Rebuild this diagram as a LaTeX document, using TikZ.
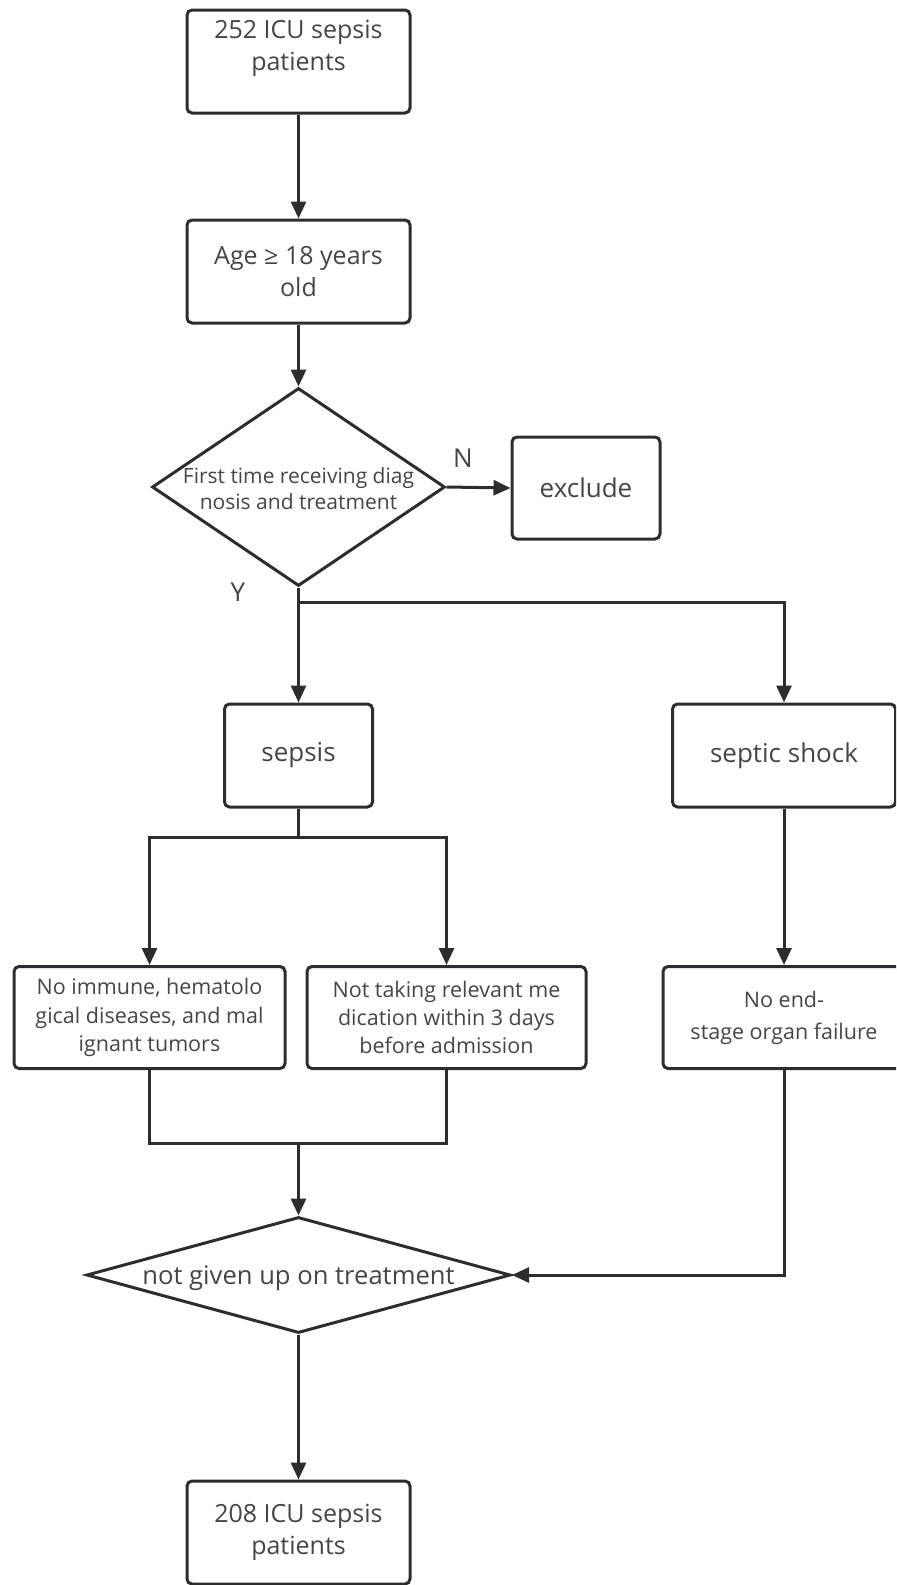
\documentclass[tikz,border=0pt]{standalone}
\usepackage{fontspec}
\setmainfont{Open Sans}
\usetikzlibrary{shapes.geometric,arrows.meta}
\definecolor{ln}{HTML}{2B2D30}
\definecolor{tx}{HTML}{454545}
\begin{document}
\begin{tikzpicture}[x=0.5pt,y=-0.5pt,
 box/.style={draw=ln,line width=1.5pt,rounded corners=2.5pt,inner sep=0pt,align=center,text=tx},
 dia/.style={draw=ln,line width=1.5pt,diamond,inner sep=0pt,text=tx},
 arr/.style={draw=ln,line width=1.5pt,-{Triangle[length=8.5pt,width=7.5pt]}},
 con/.style={draw=ln,line width=1.5pt},
 lab/.style={text=tx,inner sep=0pt,font=\fontsize{13}{15}\selectfont},
 big/.style={font=\fontsize{12.5}{16}\selectfont},
 mid/.style={font=\fontsize{10.75}{14.2}\selectfont}]
\clip (0,0) rectangle (896,1585);
\node[box,big,minimum width=111.5pt,minimum height=51.5pt] (b1) at (298.5,61.5) {252 ICU sepsis\\patients\\\mbox{}};
\node[box,big,minimum width=111.5pt,minimum height=51.5pt] (b2) at (298.5,271.5) {Age ≥ 18 years\\old};
\node[dia,minimum width=146.5pt,minimum height=99pt,font=\fontsize{10.5}{13}\selectfont] (d1) at (298.5,487)
 {\makebox[0pt]{\smash{\raisebox{-5pt}{\begin{tabular}{@{}c@{}}First time receiving diag\\nosis and treatment\end{tabular}}}}};
\node[box,minimum width=74pt,minimum height=51pt,font=\fontsize{13}{16}\selectfont] (ex) at (586,488) {exclude};
\node[box,minimum width=74pt,minimum height=51.5pt,font=\fontsize{13}{16}\selectfont] (sp) at (298.5,755.5) {sepsis};
\node[box,minimum width=111.5pt,minimum height=51.5pt,font=\fontsize{13}{16}\selectfont] (sh) at (784,755.5) {septic shock};
\node[box,mid,minimum width=135.5pt,minimum height=51pt] (A) at (149.5,1017.5) {No immune, hematolo\\gical diseases, and mal\\ignant tumors};
\node[box,mid,minimum width=139.5pt,minimum height=51pt] (B) at (446.5,1017.5) {Not taking relevant me\\dication within 3 days\\before admission};
\node[box,minimum width=121pt,minimum height=51pt,font=\fontsize{10.75}{16}\selectfont] (C) at (784,1017.5) {No end-\\stage organ failure};
\node[dia,minimum width=212pt,minimum height=58pt,font=\fontsize{12.8}{15}\selectfont] (d2) at (298.5,1275)
 {\makebox[0pt]{\smash{\raisebox{-4.5pt}{not given up on treatment}}}};
\node[box,big,minimum width=111.5pt,minimum height=51.5pt] (b3) at (298.5,1532.5) {208 ICU sepsis\\patients};
\node[lab] (nl) at (463,458) {N};
\node[lab] (yl) at (238,592) {Y};
\coordinate (j0) at (298.5,602);
\coordinate (j1) at (298.5,837);
\coordinate (j2) at (298.5,1143);
\draw[arr] (b1) -- (b2);
\draw[arr] (b2) -- (d1);
\draw[arr] (d1.east) -- (ex.west);
\draw[arr] (d1.south) -- (sp.north);
\draw[arr] (j0) -| (sh.north);
\draw[con] (sp.south) -- (j1);
\draw[arr] (j1) -| (A.north);
\draw[arr] (j1) -| (B.north);
\draw[arr] (sh.south) -- (C.north);
\draw[con] (A.south) |- (j2) -| (B.south);
\draw[arr] (j2) -- (d2.north);
\draw[arr] (C.south) |- (d2.east);
\draw[arr] (d2.south) -- (b3.north);
\end{tikzpicture}
\end{document}
